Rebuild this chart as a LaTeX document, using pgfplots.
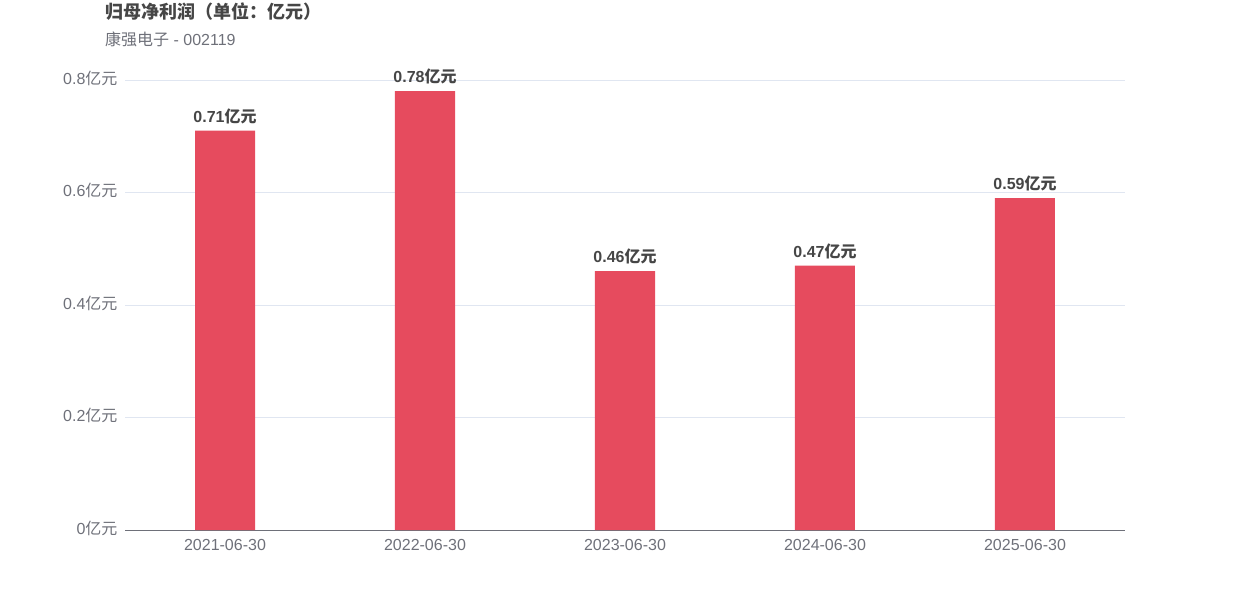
\documentclass[border=0pt]{standalone}
\usepackage{fontspec}
\setmainfont{Liberation Sans}
\newfontfamily\cjk{Noto Sans CJK SC}
\usepackage{pgfplots}
\pgfplotsset{compat=1.18}
\definecolor{barc}{HTML}{E64B5E}
\definecolor{axc}{HTML}{6E7079}
\definecolor{gridc}{HTML}{E0E6F1}
\definecolor{titc}{HTML}{464646}
\begin{document}
\begin{tikzpicture}[x=1pt,y=1pt]
\path[use as bounding box] (0,0) rectangle (1250,600);
\node[anchor=base west, inner sep=0, font=\fontsize{18}{18}\selectfont\bfseries\cjk, text=titc] at (105,581) {归母净利润（单位：亿元）};
\node[anchor=base west, inner sep=0, font=\fontsize{16}{16}\selectfont, text=axc] at (105,554) {{\cjk 康强电子} - 002119};
\begin{axis}[
  at={(125pt,70pt)}, anchor=south west,
  width=1000pt, height=450pt, scale only axis,
  xmin=-0.5, xmax=4.5, ymin=0, ymax=0.8,
  ybar, bar width=60pt,
  axis x line*=bottom,
  axis y line*=left,
  x axis line style={draw=axc, line width=1pt},
  y axis line style={draw=none},
  ytick={0,0.2,0.4,0.6,0.8},
  ymajorgrids, grid style={draw=gridc, line width=0.8pt},
  xtick={0,1,2,3,4},
  xticklabels={2021-06-30,2022-06-30,2023-06-30,2024-06-30,2025-06-30},
  major tick length=0pt,
  tick style={draw=none},
  ticklabel style={font=\fontsize{16}{16}\selectfont, text=axc},
  xticklabel style={yshift=-6pt},
  /pgf/number format/assume math mode=true,
  yticklabel={\pgfmathprintnumber[fixed,precision=1]{\tick}{\cjk 亿元}},
  yticklabel style={xshift=-4pt, yshift=2pt},
  nodes near coords={\pgfmathprintnumber[fixed,precision=2]{\pgfplotspointmeta}{\cjk 亿元}},
  nodes near coords style={font=\fontsize{16}{16}\selectfont\bfseries, text=titc, anchor=base, inner sep=0, yshift=8.5pt},
  clip=false,
]
\addplot[fill=barc, draw=none] coordinates {(0,0.71) (1,0.78) (2,0.46) (3,0.47) (4,0.59)};
\end{axis}
\end{tikzpicture}
\end{document}
